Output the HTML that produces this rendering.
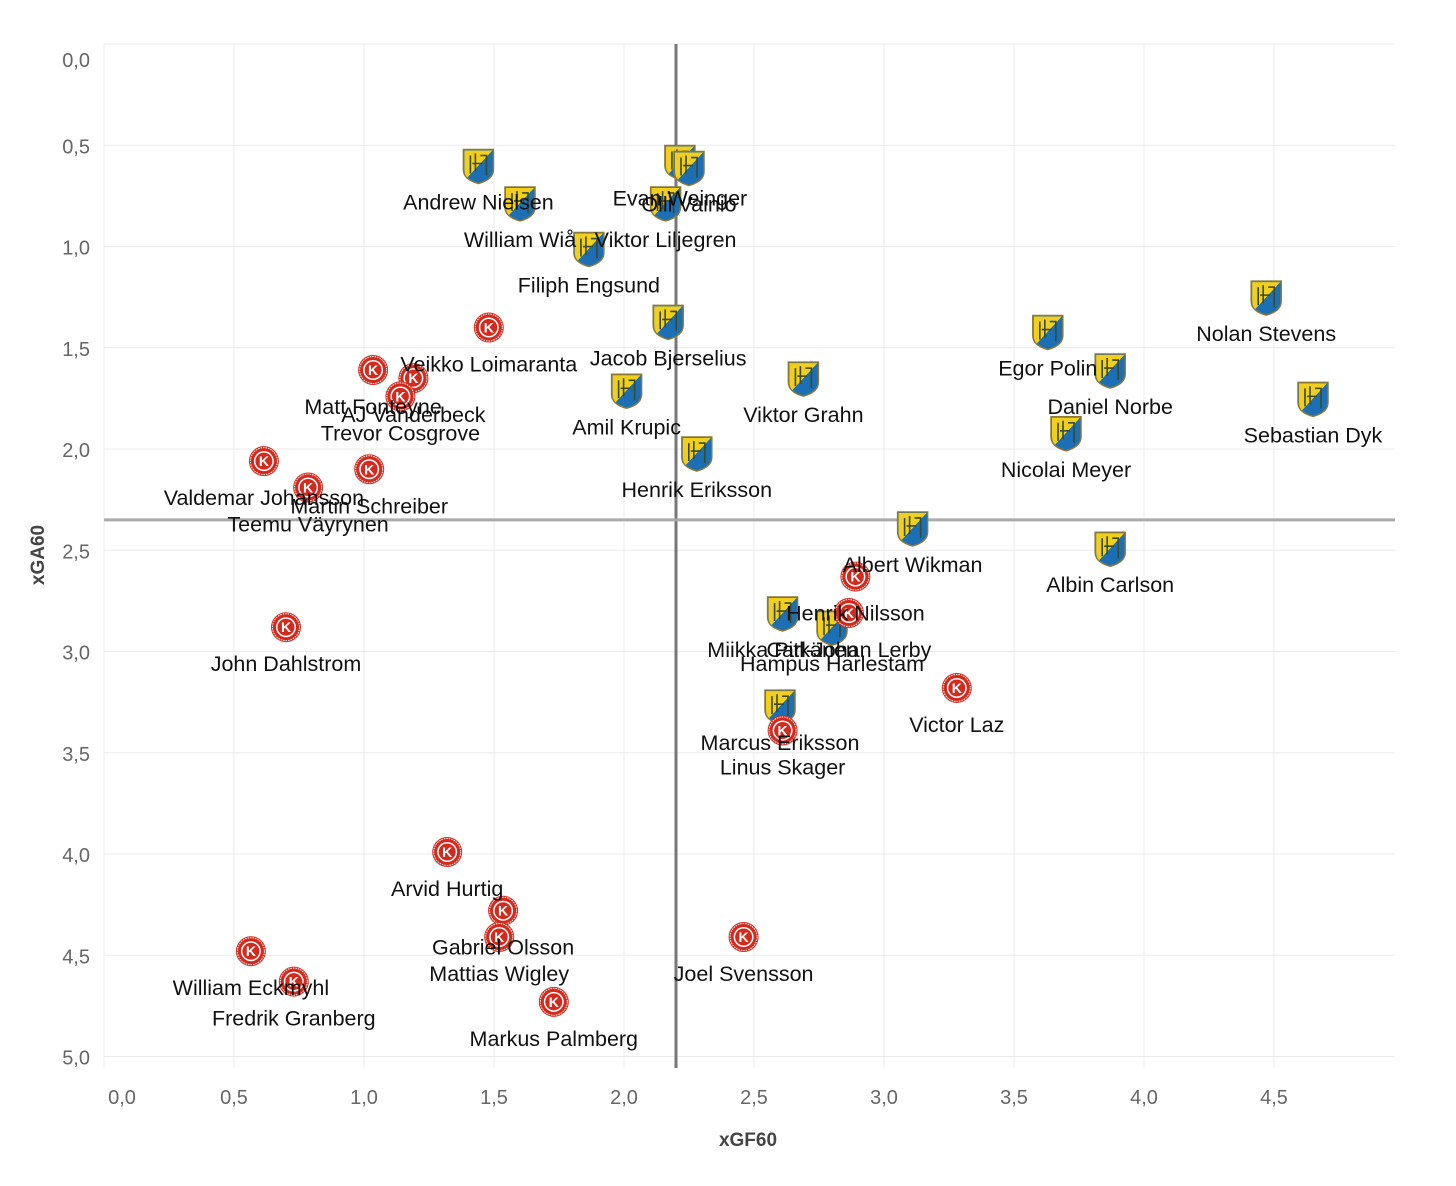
<!DOCTYPE html>
<html><head><meta charset="utf-8">
<style>
html,body{margin:0;padding:0;background:#fff;}
svg{display:block;font-family:"Liberation Sans","DejaVu Sans",sans-serif;}
</style></head>
<body>
<svg id="chart" width="1456" height="1186" viewBox="0 0 1456 1186" xmlns="http://www.w3.org/2000/svg">
<g id="grid"></g>
<g id="axes"></g>
<g id="refs"></g>
<g id="marks"></g>
<g id="labels"></g>
<text x="44" y="555" transform="rotate(-90 44 555)" text-anchor="middle" font-size="19" font-weight="bold" fill="#444">xGA60</text>
<text x="748" y="1146" text-anchor="middle" font-size="19" font-weight="bold" fill="#444">xGF60</text>
</svg>
<script>
const names = ["Andrew Nielsen","William Wiå","Evan Weinger","Olli Vainio","Viktor Liljegren","Filiph Engsund","Jacob Bjerselius","Amil Krupic","Henrik Eriksson","Viktor Grahn","Egor Polin","Daniel Norbe","Nicolai Meyer","Nolan Stevens","Sebastian Dyk","Albert Wikman","Albin Carlson","Miikka Pitkänen","Hampus Harlestam","Marcus Eriksson",
"Veikko Loimaranta","Matt Fonteyne","AJ Vanderbeck","Trevor Cosgrove","Valdemar Johansson","Martin Schreiber","Teemu Väyrynen","John Dahlstrom","Henrik Nilsson","Carl-Johan Lerby","Linus Skager","Victor Laz","Arvid Hurtig","Gabriel Olsson","Mattias Wigley","Joel Svensson","William Eckmyhl","Fredrik Granberg","Markus Palmberg"];
const teams = ["S","S","S","S","S","S","S","S","S","S","S","S","S","S","S","S","S","S","S","S",
"K","K","K","K","K","K","K","K","K","K","K","K","K","K","K","K","K","K","K"];
const xgf = [1.44,1.60,2.215,2.25,2.16,1.865,2.17,2.01,2.28,2.69,3.63,3.87,3.70,4.47,4.65,3.11,3.87,2.61,2.80,2.60,
1.48,1.035,1.19,1.14,0.615,1.02,0.785,0.70,2.89,2.865,2.61,3.28,1.32,1.535,1.52,2.46,0.565,0.73,1.73];
const xga = [0.60,0.785,0.58,0.61,0.785,1.01,1.37,1.71,2.02,1.65,1.42,1.61,1.92,1.25,1.75,2.39,2.49,2.81,2.88,3.27,
1.40,1.61,1.65,1.74,2.06,2.10,2.19,2.88,2.63,2.81,3.39,3.18,3.99,4.28,4.41,4.41,4.48,4.63,4.73];
const xTicks = [0,0.5,1,1.5,2,2.5,3,3.5,4,4.5];
const yTicks = [0,0.5,1,1.5,2,2.5,3,3.5,4,4.5,5];
const refX = 2.2, refY = 2.35;

const NS="http://www.w3.org/2000/svg";
const L=104, R=1395, T=44, B=1068;
function sx(v){return L+v*260;}
function sy(v){return T+v*202.5;}
function mk(tag,attrs,parent){const e=document.createElementNS(NS,tag);for(const k in attrs)e.setAttribute(k,attrs[k]);parent.appendChild(e);return e;}
const fmt=v=>v.toFixed(1).replace('.',',');
const grid=document.getElementById('grid'),axes=document.getElementById('axes'),refs=document.getElementById('refs'),marks=document.getElementById('marks'),labels=document.getElementById('labels');
mk('line',{x1:L,x2:R,y1:T,y2:T,stroke:'#ccc','stroke-dasharray':'3,3'},grid);
xTicks.forEach(v=>{
  const g=mk('line',{x1:sx(v),x2:sx(v),y1:T,y2:B,stroke:'#ebebeb'},grid);
  
  
  const xx=v===0?sx(v)+18:sx(v);
  const t=mk('text',{x:xx,y:1104,'text-anchor':'middle','font-size':20,fill:'#666'},axes);
  t.textContent=fmt(v);
  
  
});
yTicks.forEach(v=>{
  const g=mk('line',{x1:L,x2:R,y1:sy(v),y2:sy(v),stroke:'#ebebeb'},grid);
  
  
  const yy=v===0?sy(v)+23:sy(v)+8;
  const t=mk('text',{x:90,y:yy,'text-anchor':'end','font-size':20,fill:'#666'},axes);
  t.textContent=fmt(v);
  
  
});
const rv=mk('line',{x1:sx(refX),x2:sx(refX),y1:T,y2:B,stroke:'#777','stroke-width':3},refs);


const rh=mk('line',{x1:L,x2:R,y1:sy(refY),y2:sy(refY),stroke:'#aaa','stroke-width':3},refs);



function shield(cx,cy){
  const g=mk('g',{transform:`translate(${cx-16},${cy-18})`},marks);
  
  
  mk('path',{d:'M1 2 H31 V22 Q31 32 16 36 Q1 32 1 22 Z',fill:'#1c6fb5',stroke:'#8a7a3a','stroke-width':1.5},g);
  mk('path',{d:'M2 3 H30 L5 30 Q2 27 2 22 Z',fill:'#f2cf1d'},g);
  mk('path',{d:'M8 8 V26 M13 6 V24 M18 8 H24 V28 M10 16 H20',stroke:'#3b4a2a','stroke-width':1.6,fill:'none'},g);
  return g;
}
function kicon(cx,cy){
  const g=mk('g',{},marks);
  
  
  mk('circle',{cx,cy,r:15,fill:'#d42a1e'},g);
  mk('circle',{cx,cy,r:13.5,fill:'none',stroke:'#fff','stroke-width':1,'stroke-dasharray':'1.5,1'},g);
  mk('circle',{cx,cy,r:10,fill:'#fff'},g);
  mk('circle',{cx,cy,r:8.5,fill:'#d42a1e'},g);
  const t=mk('text',{x:cx,y:cy+5,'text-anchor':'middle','font-size':14,'font-weight':'bold',fill:'#fff'},g);
  t.textContent='K';
  return g;
}
names.forEach((n,i)=>{
  const cx=sx(xgf[i]),cy=sy(xga[i]);
  if(teams[i]==='S') shield(cx,cy); else kicon(cx,cy);
  const t=mk('text',{x:cx,y:cy+44,'text-anchor':'middle','font-size':21.5,fill:'#111'},labels);
  t.textContent=n;
  
  
});
</script>
</body></html>
